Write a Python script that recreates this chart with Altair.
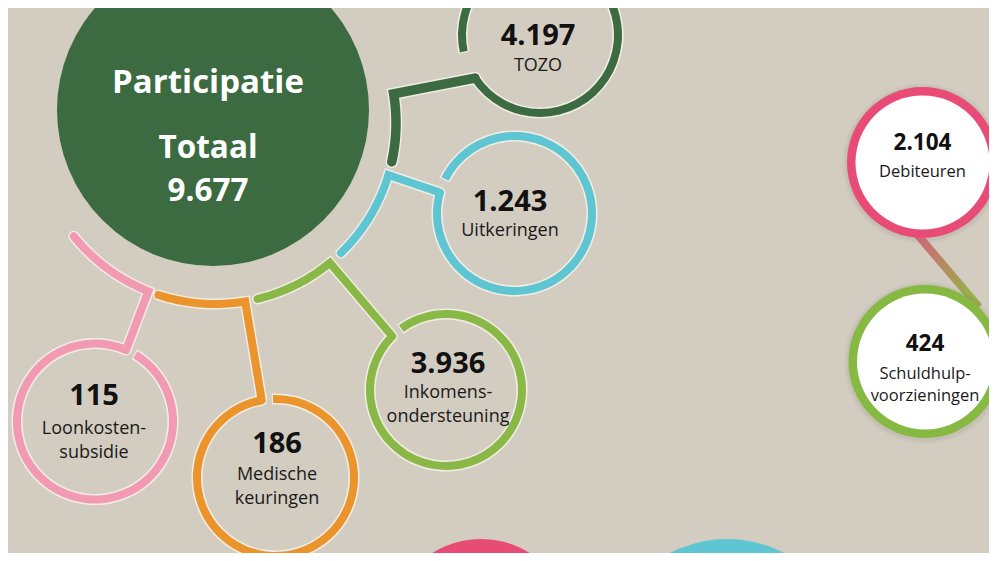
import math
import altair as alt
import pandas as pd

# ---------------- data ----------------
hub_title = "Participatie"
hub_total_label = "Totaal"
hub_total = "9.677"

categories = ["TOZO", "Uitkeringen", "Inkomens-\nondersteuning", "Medische\nkeuringen", "Loonkosten-\nsubsidie"]
values = ["4.197", "1.243", "3.936", "186", "115"]
colors = ["#3c6b41", "#5ec5d2", "#89b846", "#ea942b", "#f29ab2"]

side_categories = ["Debiteuren", "Schuldhulp-\nvoorzieningen"]
side_values = ["2.104", "424"]
side_colors = ["#e94b77", "#86b942"]

bottom_colors = ["#e94b77", "#5ec5d2"]

# ---------------- layout (page pixels) ----------------
BG = "#d3ccc0"
HALO = "#f4f0e8"
FONT = "Open Sans"
HUB = (213, 110, 156)
ARC_C = (215, 123)
ARC_R = 181
ring_cx = [540, 514.5, 446, 275.5, 95]
ring_cy = [35, 213.5, 390, 477.5, 421.5]
ring_ro = [82, 81.5, 80, 82.5, 82]
RING_W = 8
arc_from = [12.4, 45.9, 76.4, 108.2, 141.3]   # screen degrees, clockwise from +x
arc_to = [-9.3, 16.7, 50.6, 80.4, 111.6]
gap_a = [236.5, -74.3, -45.0, -10.1, 23.5]    # theta deg (0 = up, clockwise)
gap_b = [257.7, -63.6, -36.0, -1.8, 31.1]
line_w = [9.5, 8, 8, 8, 8]
num_xy = [(538, 36), (510, 202), (448, 364), (277, 444), (94, 396)]
lab_y0 = [66, 231, 393, 475, 429]
LINE_H = 24

side_cx = [922.5, 925]
side_cy = [162.5, 361.5]
side_ro = [75.5, 76.5]
SIDE_W = 8.5
side_num_y = [143, 344]
side_lab_y0 = [172, 374]
SIDE_LH = 22
side_link = [(905, 220), (979, 307)]

bottom_c = [(481, 631, 92), (727, 663, 124)]

# page area actually available inside the 8px body margin
X0, X1, Y0, Y1 = 8, 989, 8, 553
W, H = X1 - X0, Y1 - Y0
XS = alt.Scale(domain=[X0, X1], nice=False, zero=False)
YS = alt.Scale(domain=[Y0, Y1], nice=False, zero=False, reverse=True)


def xy():
    return dict(x=alt.X("x:Q", scale=XS, axis=None), y=alt.Y("y:Q", scale=YS, axis=None))


def arc_layer(rows, opacity=1.0):
    df = pd.DataFrame(rows)
    return alt.Chart(df).mark_arc(clip=True, opacity=opacity).encode(
        **xy(),
        theta=alt.Theta("t1:Q", scale=None, stack=False),
        theta2=alt.Theta2("t2:Q"),
        radius=alt.Radius("ro:Q", scale=None),
        radius2=alt.Radius2("ri:Q"),
        color=alt.Color("c:N", scale=None),
    )


def rad(d):
    return d * math.pi / 180.0


FULL = 2 * math.pi

# bottom partial circles + hub
disc_rows = [dict(x=cx, y=cy, t1=0, t2=FULL, ro=r, ri=0, c=bottom_colors[i]) for i, (cx, cy, r) in enumerate(bottom_c)]
disc_rows.append(dict(x=HUB[0], y=HUB[1], t1=0, t2=FULL, ro=HUB[2], ri=0, c=colors[0]))
discs = arc_layer(disc_rows)

# connectors
line_rows = []
for i in range(len(categories)):
    n = 24
    k = 0
    for s in range(n + 1):
        a = rad(arc_from[i] + (arc_to[i] - arc_from[i]) * s / n)
        line_rows.append(dict(id=i, k=k, x=ARC_C[0] + ARC_R * math.cos(a), y=ARC_C[1] + ARC_R * math.sin(a),
                              c=colors[i], w=line_w[i], hw=line_w[i] + 3))
        k += 1
    t = rad(gap_a[i])
    rc = ring_ro[i] - RING_W / 2
    line_rows.append(dict(id=i, k=k, x=ring_cx[i] + rc * math.sin(t), y=ring_cy[i] - rc * math.cos(t),
                          c=colors[i], w=line_w[i], hw=line_w[i] + 3))
ldf = pd.DataFrame(line_rows)

halo_lines = alt.Chart(ldf).mark_line(strokeCap="round", strokeJoin="miter", strokeMiterLimit=10,
                                      color=HALO, opacity=0.9, clip=True).encode(
    **xy(), detail="id:N", order="k:Q", strokeWidth=alt.StrokeWidth("hw:Q", scale=None))
lines = alt.Chart(ldf).mark_line(strokeCap="round", strokeJoin="miter", strokeMiterLimit=10, clip=True).encode(
    **xy(), detail="id:N", order="k:Q", color=alt.Color("c:N", scale=None),
    strokeWidth=alt.StrokeWidth("w:Q", scale=None))

# rings
ring_rows, ring_halo_rows = [], []
for i in range(len(categories)):
    t1, t2 = rad(gap_b[i]), rad(gap_a[i] + 360)
    ring_rows.append(dict(x=ring_cx[i], y=ring_cy[i], t1=t1, t2=t2, ro=ring_ro[i], ri=ring_ro[i] - RING_W, c=colors[i]))
    ring_halo_rows.append(dict(x=ring_cx[i], y=ring_cy[i], t1=t1 - 0.015, t2=t2 + 0.005,
                               ro=ring_ro[i] + 1.6, ri=ring_ro[i] - RING_W - 1.6, c=HALO))
ring_halo = arc_layer(ring_halo_rows, 0.9)
rings = arc_layer(ring_rows)

# side circles
grad_df = pd.DataFrame([dict(k=0, x=side_link[0][0], y=side_link[0][1]),
                        dict(k=1, x=side_link[1][0], y=side_link[1][1])])
grad_line = alt.Chart(grad_df).mark_line(
    strokeWidth=8, clip=True,
    stroke=alt.Gradient(gradient="linear",
                        stops=[alt.GradientStop(color="#d26878", offset=0.2),
                               alt.GradientStop(color="#98ae4a", offset=0.85)],
                        x1=0, y1=0, x2=1, y2=1)).encode(**xy(), order="k:Q")

shadow_rows, shadow2_rows, side_rows = [], [], []
for i in range(len(side_categories)):
    shadow_rows.append(dict(x=side_cx[i], y=side_cy[i] + 1, t1=0, t2=FULL, ro=side_ro[i] + 4.5, ri=0, c="#8a8070"))
    shadow2_rows.append(dict(x=side_cx[i], y=side_cy[i] + 1, t1=0, t2=FULL, ro=side_ro[i] + 2.2, ri=0, c="#8a8070"))
    side_rows.append(dict(x=side_cx[i], y=side_cy[i], t1=0, t2=FULL, ro=side_ro[i], ri=0, c=side_colors[i]))
    side_rows.append(dict(x=side_cx[i], y=side_cy[i], t1=0, t2=FULL, ro=side_ro[i] - SIDE_W, ri=0, c="#ffffff"))
shadows = arc_layer(shadow_rows, 0.08)
shadows2 = arc_layer(shadow2_rows, 0.12)
side_discs = arc_layer(side_rows)

# texts
bold_rows, reg_rows = [], []
bold_rows.append(dict(x=208, y=83, text=hub_title, fs=33, c="#ffffff"))
bold_rows.append(dict(x=208, y=148.5, text=hub_total_label, fs=31.5, c="#ffffff"))
bold_rows.append(dict(x=208, y=192, text=hub_total, fs=31.5, c="#ffffff"))
for i in range(len(categories)):
    bold_rows.append(dict(x=num_xy[i][0], y=num_xy[i][1], text=values[i], fs=29, c="#111111"))
    for j, part in enumerate(categories[i].split("\n")):
        reg_rows.append(dict(x=num_xy[i][0], y=lab_y0[i] + j * LINE_H, text=part, fs=18, c="#1a1a1a"))
for i in range(len(side_categories)):
    bold_rows.append(dict(x=side_cx[i], y=side_num_y[i], text=side_values[i], fs=22.5, c="#111111"))
    for j, part in enumerate(side_categories[i].split("\n")):
        reg_rows.append(dict(x=side_cx[i], y=side_lab_y0[i] + j * SIDE_LH, text=part, fs=16.5, c="#1a1a1a"))


def text_layer(rows, weight):
    df = pd.DataFrame(rows)
    return alt.Chart(df).mark_text(font=FONT, fontWeight=weight, baseline="middle", align="center").encode(
        **xy(), text="text:N", size=alt.Size("fs:Q", scale=None), color=alt.Color("c:N", scale=None))


chart = alt.layer(
    discs, halo_lines, ring_halo, lines, rings, grad_line, shadows, shadows2, side_discs,
    text_layer(bold_rows, "bold"), text_layer(reg_rows, "normal"),
).properties(
    width=W, height=H, background=BG, padding=0,
    autosize=alt.AutoSizeParams(type="none"),
).configure_view(strokeWidth=0)

chart.save("out.html", embed_options={"renderer": "svg", "actions": False})
